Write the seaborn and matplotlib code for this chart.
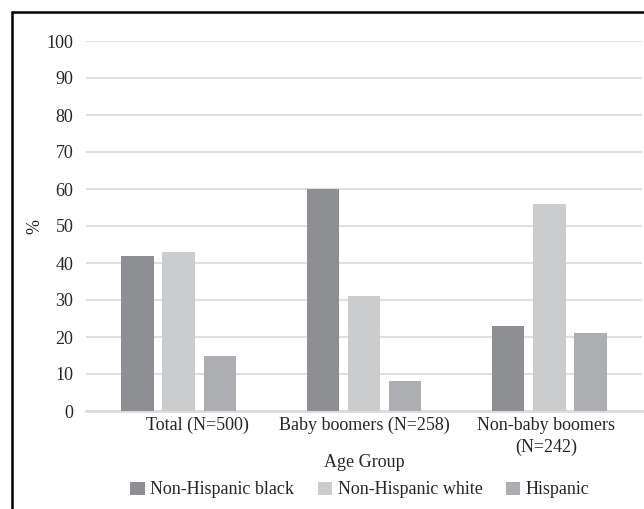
import matplotlib
matplotlib.use('Agg')
import matplotlib.pyplot as plt
import matplotlib.transforms as mtransforms
from matplotlib.lines import Line2D
from matplotlib.patches import Patch
import pandas as pd
import seaborn as sns

groups = ['Total (N=500)', 'Baby boomers (N=258)', 'Non-baby boomers\n(N=242)']
races = ['Non-Hispanic black', 'Non-Hispanic white', 'Hispanic']
black = [42, 60, 23]
white = [43, 31, 56]
hispanic = [15, 8, 21]
yticks = [0, 10, 20, 30, 40, 50, 60, 70, 80, 90, 100]

colors = ['#8e8f93', '#cbccce', '#adaeb1']

df = pd.DataFrame({
    'group': groups * 3,
    'race': [races[0]] * 3 + [races[1]] * 3 + [races[2]] * 3,
    'pct': black + white + hispanic,
})

sns.set_style('white')
plt.rcParams['font.family'] = ['Liberation Serif', 'DejaVu Serif']
fs = 13
txt = '#262626'

fig = plt.figure(figsize=(6.44, 5.09), dpi=100)
ax = fig.add_axes([86 / 644, 1 - 411 / 509, 556 / 644, 370 / 509])

sns.barplot(data=df, x='group', y='pct', hue='race', hue_order=races,
            palette=colors, width=0.665, gap=0.21, ax=ax, legend=False,
            edgecolor='none', linewidth=0, saturation=1, zorder=3)

ax.set_ylim(0, 100)
ax.set_yticks(yticks)
ax.set_xlim(-0.5, 2.5)
ax.yaxis.grid(True, color='#e0e0e0', linewidth=1.5, zorder=0)
ax.set_axisbelow(True)
for s in ['top', 'right', 'left']:
    ax.spines[s].set_visible(False)
ax.spines['bottom'].set_color('#dcdcdc')
ax.spines['bottom'].set_linewidth(2)
ax.tick_params(axis='both', length=0, labelsize=fs, colors=txt)
ax.tick_params(axis='x', pad=4)
ax.tick_params(axis='y', pad=9)

ax.set_ylabel('%', fontsize=fs, color=txt)
ax.yaxis.set_label_coords(-0.077, 0.5)
ax.set_xlabel('Age Group', fontsize=fs, color=txt)
ax.xaxis.set_label_coords(0.5, -0.117)

# Excel-like offsets of the category labels
offsets = [19, 0, -3]
for lab, dx in zip(ax.get_xticklabels(), offsets):
    lab.set_linespacing(1.35)
    lab.set_transform(lab.get_transform() +
                      mtransforms.ScaledTranslation(dx / 100, 0, fig.dpi_scale_trans))

handles = [Patch(facecolor=c, edgecolor='none') for c in colors]
fig.legend(handles, races, loc='center', bbox_to_anchor=(360 / 644, 1 - 490 / 509),
           ncol=3, frameon=False, fontsize=fs, handlelength=0.8, handleheight=0.7,
           handletextpad=0.3, columnspacing=1.3, labelcolor=txt,
           borderpad=0, borderaxespad=0)

# frame lines at top and left
fig.add_artist(Line2D([12 / 644, 12 / 644], [0, 1 - 12 / 509], color='black', linewidth=1.8))
fig.add_artist(Line2D([12 / 644, 1], [1 - 12 / 509, 1 - 12 / 509], color='black', linewidth=1.8))

fig.savefig('out.png', dpi=100)
